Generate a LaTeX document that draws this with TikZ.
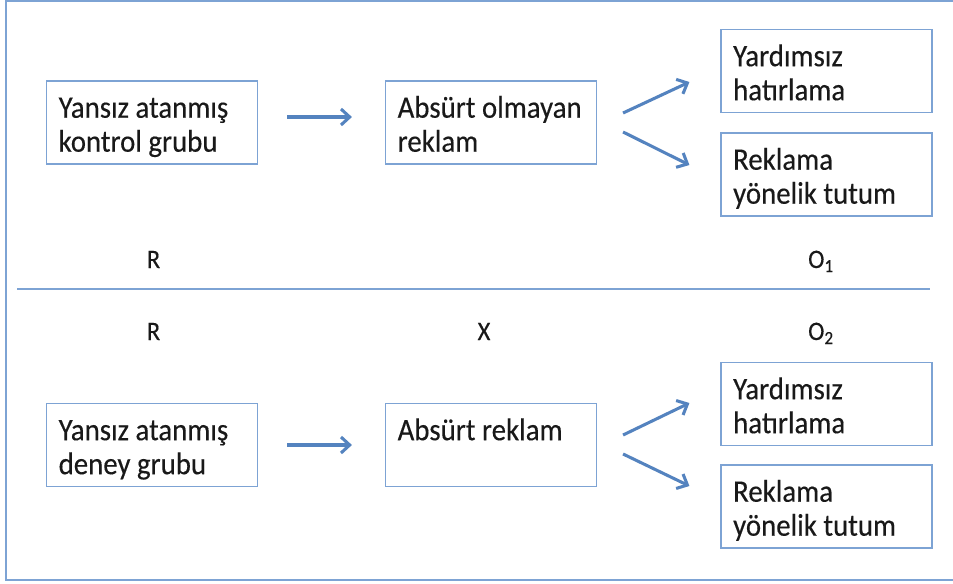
\documentclass[tikz,border=0pt]{standalone}
\usepackage{fontspec}
\setmainfont{Carlito}[FakeStretch=0.92,FakeBold=0.3]
\usetikzlibrary{arrows.meta,positioning,calc}
\definecolor{boxBlue}{RGB}{125,163,212}
\definecolor{arrowBlue}{RGB}{84,131,191}
\newcommand{\boxtxt}[1]{\parbox[c][62pt][t]{140pt}{\raggedright\rule{0pt}{27.4pt}#1}}
\tikzstyle{groupBox}=[draw=boxBlue,line width=1.1pt,rectangle,minimum width=158pt,minimum height=62pt,inner xsep=9pt,inner ysep=0pt,text=black!90]
\tikzstyle{design}  =[text=black!90,anchor=base,font=\fontsize{20}{24}\selectfont]
\tikzstyle{flow}    =[draw=arrowBlue,line width=2.3pt,-{Straight Barb[length=6.5pt,width=12pt]}]
\tikzstyle{frame}   =[draw=boxBlue,line width=1.1pt]

\begin{document}
\begin{tikzpicture}[x=0.75pt,y=-0.75pt,font=\fontsize{23.5}{25.5}\selectfont]
\useasboundingbox (0,0) rectangle (953,583);
\draw[frame] (6,1) rectangle (975,580);
\draw[frame] (17,289) -- (930,289);

\node [groupBox] (k1) at (152,122.5) {\boxtxt{Yansız atanmış\\kontrol grubu}};
\node [groupBox] (a1) at (491,122.5) {\boxtxt{Absürt olmayan\\reklam}};
\node [groupBox] (y1) at (826.5,71) {\boxtxt{Yardımsız\\hatırlama}};
\node [groupBox] (t1) at (826.5,174.5) {\boxtxt{Reklama\\yönelik tutum}};

\node [groupBox] (k2) at (152,445) {\boxtxt{Yansız atanmış\\deney grubu}};
\node [groupBox] (a2) at (491,445) {\boxtxt{Absürt reklam}};
\node [groupBox] (y2) at (826.5,404) {\boxtxt{Yardımsız\\hatırlama}};
\node [groupBox] (t2) at (826.5,506.5) {\boxtxt{Reklama\\yönelik tutum}};

\node [design] (r1) at (153.5,268) {R};
\node [design] (o1) at (821,268) {O\textsubscript{1}};
\node [design] (r2) at (153.5,340) {R};
\node [design] (x2) at (484,340) {X};
\node [design] (o2) at (821,340) {O\textsubscript{2}};

\draw[flow] ($(k1.east)+(29,-5.5)$) -- ($(a1.west)+(-33,-5.5)$);
\draw[flow] ($(a1.east)+(26,-9.5)$) -- ($(y1.west)+(-31,11)$);
\draw[flow] ($(a1.east)+(26,9.5)$) -- ($(t1.west)+(-31,-9.5)$);

\draw[flow] ($(k2.east)+(29,0)$) -- ($(a2.west)+(-33,0)$);
\draw[flow] ($(a2.east)+(26,-10)$) -- ($(y2.west)+(-31,-1)$);
\draw[flow] ($(a2.east)+(26,9)$) -- ($(t2.west)+(-31,-20.5)$);
\end{tikzpicture}
\end{document}
